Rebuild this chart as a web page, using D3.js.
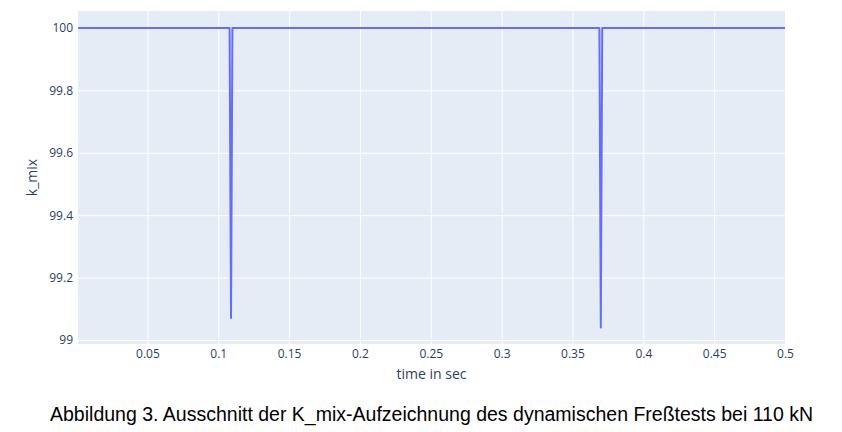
<!DOCTYPE html>
<html>
<head>
<meta charset="utf-8">
<script src="https://cdn.jsdelivr.net/npm/d3@7"></script>
<style>
  html, body { margin: 0; padding: 0; background: #fff; }
  svg { display: block; }
</style>
</head>
<body>
<svg id="chart" width="842" height="432"></svg>
<script>
const timeSec = [0.001, 0.108, 0.109, 0.110, 0.369, 0.370, 0.371, 0.5];
const kMix    = [100,   100,   99.07, 100,   100,   99.04, 100,   100];
const xTicks = [0.05, 0.1, 0.15, 0.2, 0.25, 0.3, 0.35, 0.4, 0.45, 0.5];
const yTicks = [99, 99.2, 99.4, 99.6, 99.8, 100];
const xTitle = "time in sec";
const yTitle = "k_mix";
const caption = "Abbildung 3. Ausschnitt der K_mix-Aufzeichnung des dynamischen Freßtests bei 110 kN";

const svg = d3.select("#chart");
const plot = { left: 78, right: 785, top: 11, bottom: 344 };
const font = "'Open Sans', verdana, arial, sans-serif";
const textColor = "#2a3f5f";

const x = d3.scaleLinear().domain([0.001, 0.5]).range([plot.left, plot.right]);
const y = d3.scaleLinear().domain([98.987, 100.0545]).range([plot.bottom, plot.top]);

svg.append("rect")
  .attr("x", plot.left).attr("y", plot.top)
  .attr("width", plot.right - plot.left).attr("height", plot.bottom - plot.top)
  .attr("fill", "#e5ecf6");

// Grid lines
const gx = svg.append("g")
  .attr("transform", `translate(0,${plot.bottom})`)
  .call(d3.axisBottom(x).tickValues(xTicks).tickSize(-(plot.bottom - plot.top)).tickFormat(d3.format("")).tickPadding(8));
gx.select(".domain").remove();
gx.selectAll(".tick line").attr("stroke", "#fff").attr("stroke-width", 1);
gx.selectAll(".tick text").attr("fill", textColor).style("font-family", font).style("font-size", "12px")
  .attr("dy", "0.71em").attr("y", 5.5);

const gy = svg.append("g")
  .attr("transform", `translate(${plot.left},0)`)
  .call(d3.axisLeft(y).tickValues(yTicks).tickSize(-(plot.right - plot.left)).tickFormat(d3.format("")).tickPadding(4));
gy.select(".domain").remove();
gy.selectAll(".tick line").attr("stroke", "#fff").attr("stroke-width", 1);
gy.selectAll(".tick text").attr("fill", textColor).style("font-family", font).style("font-size", "12px")
  .attr("x", -5);

// Line
const pts = timeSec.map((t, i) => [t, kMix[i]]);
svg.append("path")
  .datum(pts)
  .attr("fill", "none")
  .attr("stroke", "#636efa")
  .attr("stroke-width", 2)
  .attr("stroke-linejoin", "round")
  .attr("d", d3.line().x(d => x(d[0])).y(d => y(d[1])));

// Axis titles
svg.append("text")
  .attr("x", (plot.left + plot.right) / 2).attr("y", 379)
  .attr("text-anchor", "middle")
  .attr("fill", textColor).style("font-family", font).style("font-size", "14px")
  .text(xTitle);

svg.append("text")
  .attr("transform", `translate(37,${(plot.top + plot.bottom) / 2}) rotate(-90)`)
  .attr("text-anchor", "middle")
  .attr("fill", textColor).style("font-family", font).style("font-size", "14px")
  .text(yTitle);

// Caption
svg.append("text")
  .attr("x", 50).attr("y", 421)
  .attr("textLength", 763)
  .attr("lengthAdjust", "spacingAndGlyphs")
  .attr("fill", "#000").style("font-family", "'Liberation Sans', Arial, sans-serif").style("font-size", "20px")
  .text(caption);
</script>
</body>
</html>
